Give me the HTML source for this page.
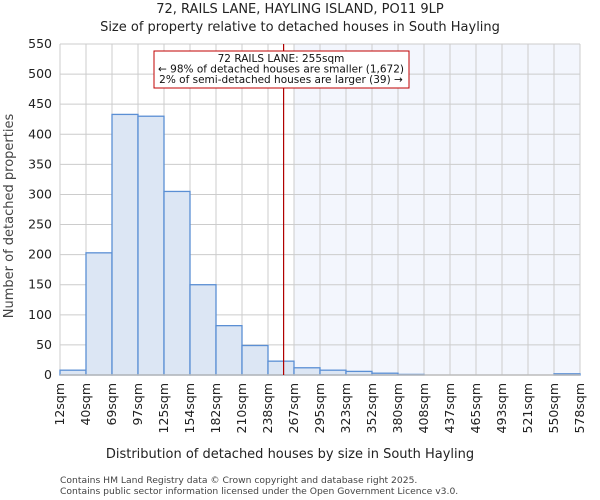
<!DOCTYPE html>
<html><head><meta charset="utf-8"><style>body{margin:0;background:#fff}svg{display:block;font-family:"DejaVu Sans","Liberation Sans",sans-serif}</style></head>
<body>
<svg id="c" width="600" height="500" viewBox="0 0 600 500">
<text x="300" y="13" text-anchor="middle" font-size="13" fill="#222">72, RAILS LANE, HAYLING ISLAND, PO11 9LP</text>
<text x="300" y="31" text-anchor="middle" font-size="13" fill="#222">Size of property relative to detached houses in South Hayling</text>
<g id="plot"></g>
<text x="290" y="458" text-anchor="middle" font-size="13" fill="#222">Distribution of detached houses by size in South Hayling</text>
<text transform="translate(13,216) rotate(-90)" text-anchor="middle" font-size="13" fill="#444">Number of detached properties</text>
<text x="60" y="483" font-size="9.2" fill="#444">Contains HM Land Registry data © Crown copyright and database right 2025.</text>
<text x="60" y="494" font-size="9.2" fill="#444">Contains public sector information licensed under the Open Government Licence v3.0.</text>
</svg>
<script>
const binLabels=["12sqm","40sqm","69sqm","97sqm","125sqm","154sqm","182sqm","210sqm","238sqm","267sqm","295sqm","323sqm","352sqm","380sqm","408sqm","437sqm","465sqm","493sqm","521sqm","550sqm","578sqm"];
const counts=[8,203,433,430,305,150,82,49,23,12,8,6,3,1,0,0,0,0,0,2];
const yTicks=[0,50,100,150,200,250,300,350,400,450,500,550];
const markerBin=8.6;
const shadeFromBin=9;
const annotation=["72 RAILS LANE: 255sqm","← 98% of detached houses are smaller (1,672)","2% of semi-detached houses are larger (39) →"];
const NS="http://www.w3.org/2000/svg";
const L=60,R=580,T=44,B=375,yMax=550;
const bw=(R-L)/counts.length;
const xs=i=>L+i*bw, ys=v=>B-v/yMax*(B-T);
const g=document.getElementById('plot');
function mk(t,a,p){const e=document.createElementNS(NS,t);for(const k in a)e.setAttribute(k,a[k]);(p||g).appendChild(e);return e;}
let e=mk('rect',{x:xs(shadeFromBin),y:T,width:R-xs(shadeFromBin),height:B-T,fill:"#f3f6fd"});


yTicks.forEach(v=>{let l=mk('line',{x1:L,x2:R,y1:ys(v),y2:ys(v),stroke:"#cccccc"});


let t=mk('text',{x:L-8,y:ys(v)+4,"text-anchor":"end","font-size":"12.5",fill:"#222"});t.textContent=v;

});
binLabels.forEach((s,i)=>{let l=mk('line',{x1:xs(i),x2:xs(i),y1:T,y2:B,stroke:"#cccccc"});


let t=mk('text',{transform:`translate(${xs(i)+4},${B+8}) rotate(-90)`,"text-anchor":"end","font-size":"12.5",fill:"#222"});t.textContent=s;

});
counts.forEach((v,i)=>{let r=mk('rect',{x:xs(i),y:ys(v),width:bw,height:B-ys(v),fill:"#dce6f4",stroke:"#5b8fd4","stroke-width":"1.3"});

});
let ax=mk('line',{x1:L,x2:R,y1:B,y2:B,stroke:"#bbb","stroke-width":"1.5"});


let mx=xs(markerBin);
let ml=mk('line',{x1:mx,x2:mx,y1:T,y2:B,stroke:"#b00000","stroke-width":"1.2"});


let bx=mk('rect',{x:154,y:51,width:255,height:37,fill:"#fff",stroke:"#c00000","stroke-width":"1"});


annotation.forEach((s,i)=>{let t=mk('text',{x:281,y:62+i*10.5,"text-anchor":"middle","font-size":"10.5",fill:"#111"});t.textContent=s;

});
</script>
</body></html>
